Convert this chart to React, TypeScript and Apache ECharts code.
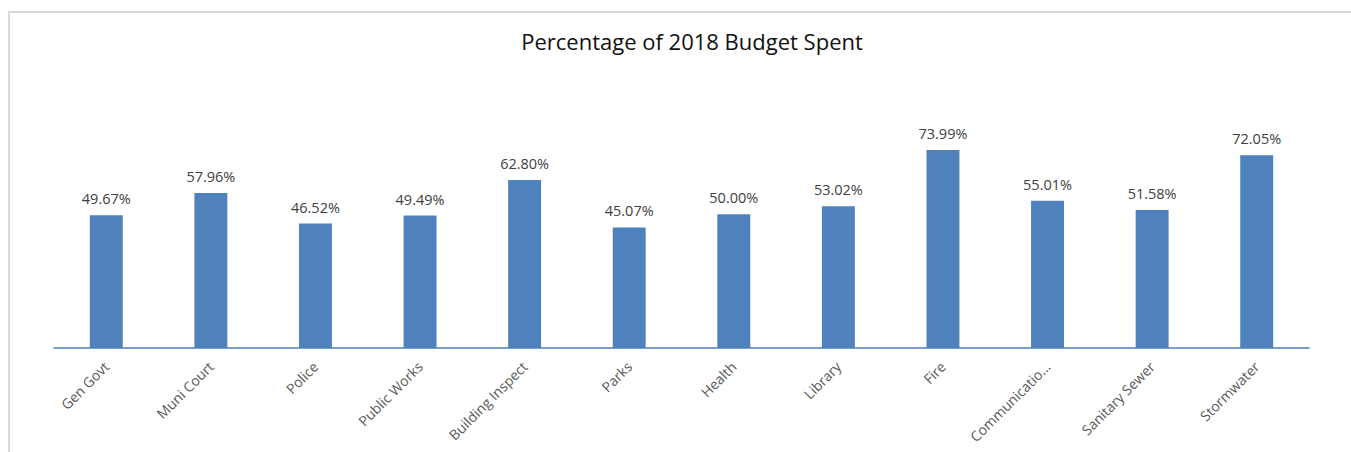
import React, { useEffect, useRef } from "react";
import * as echarts from "echarts";

const categories = [
  "Gen Govt",
  "Muni Court",
  "Police",
  "Public Works",
  "Building Inspect",
  "Parks",
  "Health",
  "Library",
  "Fire",
  "Communicatio...",
  "Sanitary Sewer",
  "Stormwater",
];

const spentPct = [49.67, 57.96, 46.52, 49.49, 62.8, 45.07, 50.0, 53.02, 73.99, 55.01, 51.58, 72.05];

const titleText = "Percentage of 2018 Budget Spent";

export default function App() {
  const ref = useRef<HTMLDivElement>(null);

  useEffect(() => {
    if (!ref.current) return;
    const chart = echarts.init(ref.current, null, { renderer: "svg" });
    const font = "'Open Sans', 'Noto Sans', sans-serif";
    chart.setOption({
      animation: false,
      title: {
        text: titleText,
        left: 687,
        top: 25,
        textAlign: "center",
        textStyle: {
          fontFamily: font,
          fontSize: 22,
          fontWeight: "normal",
          color: "#111111",
        },
      },
      grid: {
        left: 54,
        right: 42,
        top: 134,
        bottom: 104,
        containLabel: false,
      },
      xAxis: {
        type: "category",
        data: categories,
        axisLine: { show: true, lineStyle: { color: "#4a7ebb", width: 1.5 } },
        axisTick: { show: false },
        axisLabel: {
          rotate: 45,
          margin: 16,
          interval: 0,
          fontFamily: font,
          fontSize: 14,
          color: "#595959",
        },
      },
      yAxis: {
        type: "value",
        min: 0,
        max: 80,
        show: false,
        splitLine: { show: false },
      },
      series: [
        {
          type: "bar",
          data: spentPct,
          barWidth: "31.5%",
          itemStyle: { color: "#4f81bd" },
          label: {
            show: true,
            position: "top",
            distance: 9,
            fontFamily: font,
            fontSize: 14.5,
            color: "#404040",
            formatter: (p: any) => p.value.toFixed(2) + "%",
          },
        },
      ],
    });
    return () => chart.dispose();
  }, []);

  return (
    <div style={{ position: "absolute", left: 0, top: 0, width: 1351, height: 452, overflow: "hidden", background: "#fff" }}>
      <div
        style={{
          position: "absolute",
          left: 8,
          top: 11,
          width: 1400,
          height: 500,
          border: "2px solid #d9d9d9",
          boxSizing: "border-box",
        }}
      />
      <div ref={ref} style={{ position: "absolute", left: 0, top: 0, width: 1351, height: 452 }} />
    </div>
  );
}
